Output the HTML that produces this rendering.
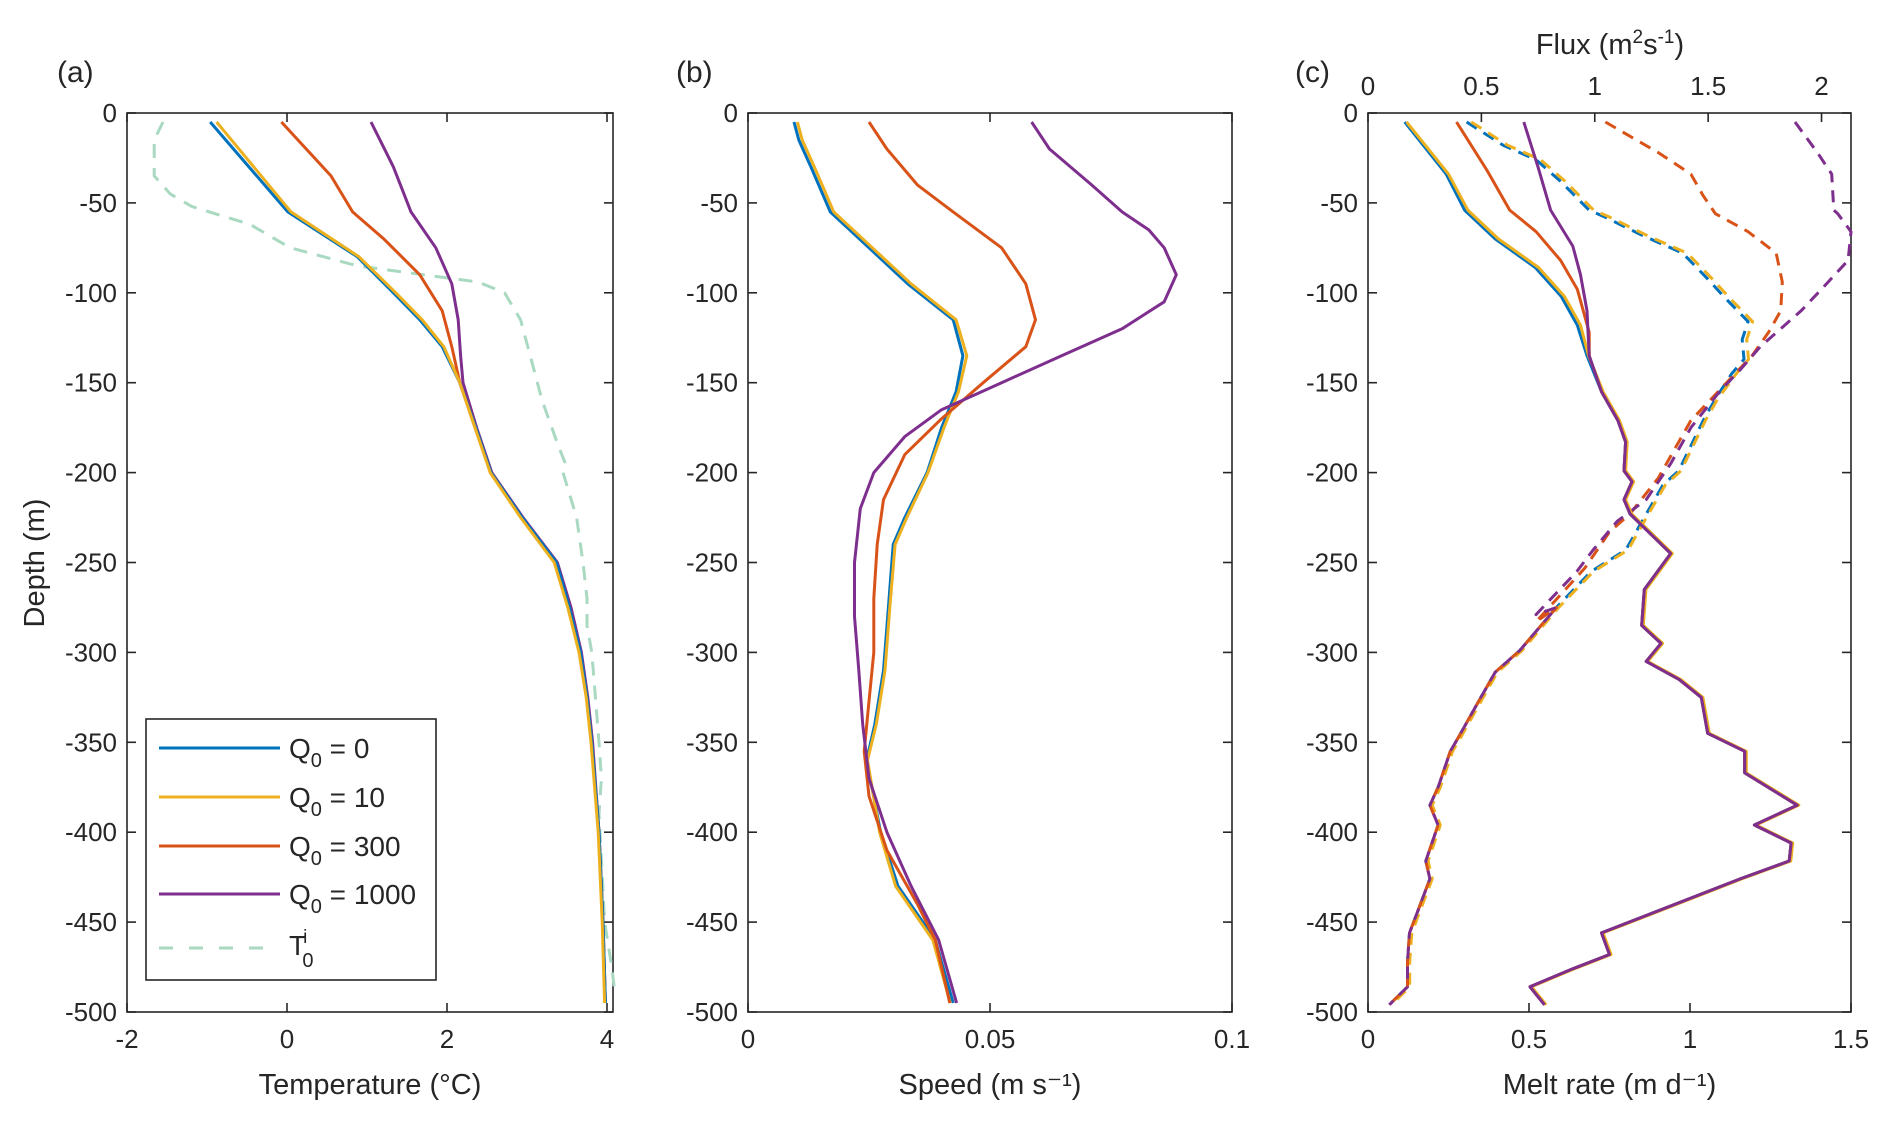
<!DOCTYPE html>
<html><head><meta charset="utf-8"><style>
html,body{margin:0;padding:0;background:#fff;}
svg text{font-family:"Liberation Sans",Arial,sans-serif;fill:#262626;}
</style></head><body>
<svg id="fig" width="1892" height="1133" viewBox="0 0 1892 1133" xmlns="http://www.w3.org/2000/svg"></svg>
<script>
// ---- depth grids & data ----
const tDepthBlue=[-5,-55,-80,-100,-115,-130,-150,-175,-200,-225,-250,-275,-300,-325,-350,-400,-450,-495];
const tBlue=[-0.96,0.01,0.88,1.33,1.66,1.94,2.16,2.36,2.55,2.94,3.37,3.53,3.67,3.75,3.81,3.9,3.95,3.98];
const tYellow=[-0.88,0.05,0.9,1.36,1.69,1.96,2.16,2.35,2.54,2.92,3.34,3.51,3.65,3.74,3.8,3.89,3.94,3.97];
const tDepthRed=[-5,-35,-55,-70,-90,-110,-130,-150,-175,-200,-225,-250,-275,-300,-325,-350,-400,-450,-495];
const tRed=[-0.07,0.55,0.82,1.21,1.66,1.94,2.06,2.16,2.35,2.55,2.93,3.35,3.52,3.66,3.75,3.81,3.9,3.95,3.98];
const tDepthPurple=[-5,-30,-55,-75,-95,-115,-135,-150,-175,-200,-225,-250,-275,-300,-325,-350,-400,-450,-495];
const tPurple=[1.05,1.33,1.55,1.86,2.06,2.14,2.17,2.2,2.37,2.56,2.95,3.38,3.55,3.68,3.76,3.82,3.9,3.95,3.98];
const tDepthInit=[-5,-15,-35,-45,-52,-62,-75,-85,-90,-94,-100,-115,-160,-185,-195,-200,-225,-250,-270,-285,-300,-350,-370,-390,-450,-475,-490];
const tInit=[-1.55,-1.66,-1.66,-1.46,-1.19,-0.46,0.04,0.88,1.71,2.39,2.72,2.92,3.19,3.39,3.48,3.45,3.62,3.7,3.75,3.75,3.81,3.9,3.93,3.9,3.97,4.06,4.1];

const sDepth=[-5,-15,-30,-55,-75,-95,-115,-135,-155,-175,-200,-225,-240,-275,-310,-340,-360,-400,-430,-460,-495];
const sBlue=[0.0095,0.0105,0.013,0.017,0.025,0.033,0.0424,0.0444,0.043,0.04,0.037,0.0324,0.030,0.029,0.028,0.0262,0.0245,0.0274,0.031,0.0387,0.0424];
const sYellow=[0.0102,0.0112,0.0137,0.0177,0.0257,0.0337,0.043,0.0452,0.0435,0.0405,0.0372,0.0328,0.0304,0.0293,0.0283,0.0265,0.0247,0.0272,0.0305,0.0382,0.0418];
const sDepthRed=[-5,-20,-40,-55,-75,-95,-115,-130,-150,-170,-190,-215,-240,-270,-300,-330,-355,-380,-410,-440,-460,-495];
const sRed=[0.025,0.0287,0.035,0.0424,0.0524,0.0574,0.0594,0.0574,0.0486,0.04,0.0324,0.028,0.0267,0.026,0.026,0.0249,0.024,0.025,0.0287,0.035,0.0387,0.0417];
const sDepthPurple=[-5,-20,-40,-55,-65,-75,-90,-105,-120,-135,-150,-165,-180,-200,-220,-250,-280,-310,-340,-370,-400,-430,-460,-495];
const sPurple=[0.0586,0.0623,0.071,0.0773,0.0828,0.086,0.0885,0.086,0.0773,0.0648,0.0524,0.04,0.0324,0.026,0.0232,0.022,0.022,0.0229,0.0237,0.025,0.0287,0.0337,0.0394,0.0431];

const mDepthBlue=[-5,-34,-54,-70,-86,-102,-118,-135];
const mBlue=[0.114,0.243,0.30,0.395,0.52,0.60,0.65,0.68];
const mYellow=[0.12,0.25,0.31,0.405,0.53,0.61,0.66,0.685];
const mDepthRed=[-5,-32,-54,-66,-82,-98,-122,-135];
const mRed=[0.275,0.37,0.44,0.522,0.598,0.65,0.687,0.687];
const mDepthPurple=[-5,-30,-54,-74,-90,-110,-135];
const mPurple=[0.484,0.528,0.567,0.636,0.66,0.68,0.687];
const mDepthLow=[-135,-155,-171,-183,-199,-205,-215,-223,-245,-265,-285,-295,-305,-315,-325,-345,-355,-367,-385,-396,-406,-416,-426,-456,-468,-476,-486,-496];
const mLow=[0.687,0.725,0.776,0.80,0.795,0.82,0.795,0.814,0.94,0.858,0.85,0.91,0.864,0.966,1.035,1.055,1.17,1.17,1.333,1.20,1.314,1.308,1.156,0.725,0.75,0.636,0.503,0.548];

const fDepthTop=[-5,-18,-26,-38,-54,-58,-68,-78,-92,-102,-116,-126,-137,-145];
const fBlueTop=[0.435,0.597,0.741,0.849,0.975,1.047,1.209,1.388,1.496,1.568,1.676,1.65,1.658,1.604];
const fDepthRedTop=[-5,-22,-34,-46,-56,-66,-78,-94,-110,-122,-135,-147];
const fRedTop=[1.047,1.28,1.424,1.478,1.532,1.676,1.80,1.827,1.82,1.766,1.694,1.604];
const fDepthPurpleTop=[-5,-22,-34,-54,-56,-66,-82,-98,-110,-120,-130,-143,-155];
const fPurpleTop=[1.883,1.982,2.045,2.054,2.072,2.13,2.117,2.0,1.91,1.82,1.73,1.64,1.55];
const fDepthLow=[-159,-171,-199,-207,-227,-243,-255,-275,-299,-311,-331,-347,-355,-375,-385,-396,-416,-426,-444,-456,-472,-486,-496];
const fLow=[1.532,1.478,1.37,1.30,1.209,1.137,0.984,0.831,0.669,0.561,0.471,0.40,0.363,0.309,0.273,0.309,0.255,0.273,0.219,0.183,0.174,0.174,0.094];
const fDepthRedMid=[-171,-203,-223,-233,-253,-283];
const fRedMid=[1.424,1.28,1.155,1.065,0.957,0.741];
const fDepthPurpleMid=[-175,-195,-215,-227,-243,-255,-279];
const fPurpleMid=[1.424,1.335,1.227,1.10,0.993,0.921,0.741];

const depthTicks=[0,-50,-100,-150,-200,-250,-300,-350,-400,-450,-500];
const tempTicks=[-2,0,2,4];
const speedTicks=[0,0.05,0.1];
const meltTicks=[0,0.5,1,1.5];
const fluxTicks=[0,0.5,1,1.5,2];
const legendLabels=["0","10","300","1000"];

const C={blue:"#0072BD",yellow:"#EDB120",red:"#D95319",purple:"#7E2F8E",green:"#A9D9C1"};
const NS="http://www.w3.org/2000/svg";
const svg=document.getElementById('fig');
function el(tag,attrs,parent){const e=document.createElementNS(NS,tag);for(const k in attrs)e.setAttribute(k,attrs[k]);(parent||svg).appendChild(e);return e;}
const TOP=113,BOT=1012;
function yScale(d){return TOP+(-d)/500*(BOT-TOP);}
function mk(x0,x1,v0,v1){return v=>x0+(v-v0)/(v1-v0)*(x1-x0);}

function axes(name,L,R,xs,xticks,fmt,xlabel,panel,px,hideY){
  const g=el('g',{});
  
  
  const box=el('rect',{x:L,y:TOP,width:R-L,height:BOT-TOP,fill:'none',stroke:'#262626','stroke-width':1.6},g);
  
  
  depthTicks.forEach(d=>{
    const y=yScale(d);
    el('line',{x1:L,x2:L+9,y1:y,y2:y,stroke:'#262626','stroke-width':1.6},g);
    el('line',{x1:R,x2:R-9,y1:y,y2:y,stroke:'#262626','stroke-width':1.6},g);
    const t=el('text',{x:L-10,y:y+9,'text-anchor':'end','font-size':26},g);
    t.textContent=String(d);
    
    
  });
  xticks.forEach(v=>{
    const x=xs(v);
    el('line',{x1:x,x2:x,y1:BOT,y2:BOT-9,stroke:'#262626','stroke-width':1.6},g);
    if(!name.startsWith('panel-c'))el('line',{x1:x,x2:x,y1:TOP,y2:TOP+9,stroke:'#262626','stroke-width':1.6},g);
    const t=el('text',{x:x,y:1048,'text-anchor':'middle','font-size':26},g);
    t.textContent=fmt(v);
    
    
  });
  const xl=el('text',{x:(L+R)/2,y:1094,'text-anchor':'middle','font-size':29},g);
  xl.textContent=xlabel;
  
  
  const pl=el('text',{x:px,y:82,'font-size':30},g);
  pl.textContent=panel;
  
  
  return g;
}
function line(name,xs,vals,depths,color,dash,w){
  const pts=vals.map((v,i)=>xs(v).toFixed(1)+','+yScale(depths[i]).toFixed(1)).join(' ');
  const p=el('polyline',{points:pts,fill:'none',stroke:color,'stroke-width':w||3,'stroke-linejoin':'round'});
  if(dash)p.setAttribute('stroke-dasharray',dash);
  
  
  return p;
}
const num=v=>String(v);

// Panel a
const xa=mk(127,607,-2,4);
axes('panel-a-axes',127,613,xa,tempTicks,num,'Temperature (°C)','(a)',57);
line('initial-temperature-line',xa,tInit,tDepthInit,C.green,'14 10',3);
line('temp-q1000-line',xa,tPurple,tDepthPurple,C.purple);
line('temp-q300-line',xa,tRed,tDepthRed,C.red);
line('temp-q0-line',xa,tBlue,tDepthBlue,C.blue);
line('temp-q10-line',xa,tYellow,tDepthBlue,C.yellow);
const yl=el('text',{x:0,y:0,'text-anchor':'middle','font-size':29,transform:'translate(44,563) rotate(-90)'});
yl.textContent='Depth (m)';



// Panel b
const xb=mk(748,1232,0,0.1);
axes('panel-b-axes',748,1232,xb,speedTicks,num,'Speed (m s⁻¹)','(b)',676);
line('speed-q0-line',xb,sBlue,sDepth,C.blue);
line('speed-q10-line',xb,sYellow,sDepth,C.yellow);
line('speed-q300-line',xb,sRed,sDepthRed,C.red);
line('speed-q1000-line',xb,sPurple,sDepthPurple,C.purple);

// Panel c
const xc=mk(1368,1851,0,1.5);
const xf=mk(1368,1851,0,2.13);
axes('panel-c-axes',1368,1851,xc,meltTicks,num,'Melt rate (m d⁻¹)','(c)',1295);
fluxTicks.forEach(v=>{
  const x=xf(v);
  el('line',{x1:x,x2:x,y1:TOP,y2:TOP+9,stroke:'#262626','stroke-width':1.6});
  const t=el('text',{x:x,y:95,'text-anchor':'middle','font-size':26});
  t.textContent=num(v);
  
  
});
const ft=el('text',{x:1610,y:54,'text-anchor':'middle','font-size':29});


ft.innerHTML='Flux (m<tspan dy="-11" font-size="19">2</tspan><tspan dy="11">s</tspan><tspan dy="-11" font-size="19">-1</tspan><tspan dy="11">)</tspan>';

// flux dashed
line('flux-q0-line',xf,fBlueTop.concat(fLow),fDepthTop.concat(fDepthLow),C.blue,'12 8');
line('flux-q10-line',xf,fBlueTop.map(v=>v+0.02).concat(fLow.map(v=>v+0.01)),fDepthTop.concat(fDepthLow),C.yellow,'12 8');
line('flux-q300-line',xf,fRedTop.concat(fRedMid,fLow.slice(7)),fDepthRedTop.concat(fDepthRedMid,fDepthLow.slice(7)),C.red,'12 8');
line('flux-q1000-line',xf,fPurpleTop.concat(fPurpleMid,fLow.slice(7)),fDepthPurpleTop.concat(fDepthPurpleMid,fDepthLow.slice(7)),C.purple,'12 8');
// melt solid
line('melt-q0-line',xc,mBlue.concat(mLow.slice(1)),mDepthBlue.concat(mDepthLow.slice(1)),C.blue);
line('melt-q10-line',xc,mYellow.concat(mLow.slice(1).map(v=>v+0.005)),mDepthBlue.concat(mDepthLow.slice(1)),C.yellow);
line('melt-q300-line',xc,mRed.concat(mLow.slice(1)),mDepthRed.concat(mDepthLow.slice(1)),C.red);
line('melt-q1000-line',xc,mPurple.concat(mLow.slice(1)),mDepthPurple.concat(mDepthLow.slice(1)),C.purple);

// Legend
const lg=el('g',{});


el('rect',{x:146,y:719,width:290,height:261,fill:'#fff',stroke:'#262626','stroke-width':1.6},lg);
const lcols=[C.blue,C.yellow,C.red,C.purple];
const rows=[748,797,846,894];
legendLabels.forEach((lab,i)=>{
  const e=el('g',{},lg);
  
  
  el('line',{x1:159,x2:280,y1:rows[i],y2:rows[i],stroke:lcols[i],'stroke-width':3},e);
  const t=el('text',{x:289,y:rows[i]+10,'font-size':28},e);
  t.innerHTML='Q<tspan dy="9" font-size="20">0</tspan><tspan dy="-9"> = '+lab+'</tspan>';
});
const eg=el('g',{},lg);


el('line',{x1:159,x2:266,y1:948,y2:948,stroke:C.green,'stroke-width':3,'stroke-dasharray':'14 16'},eg);
const tt=el('text',{x:289,y:955,'font-size':28},eg);
tt.innerHTML='T<tspan dx="-3" dy="-12" font-size="19">i</tspan><tspan dx="-5" dy="24" font-size="20">0</tspan>';
</script>
</body></html>
